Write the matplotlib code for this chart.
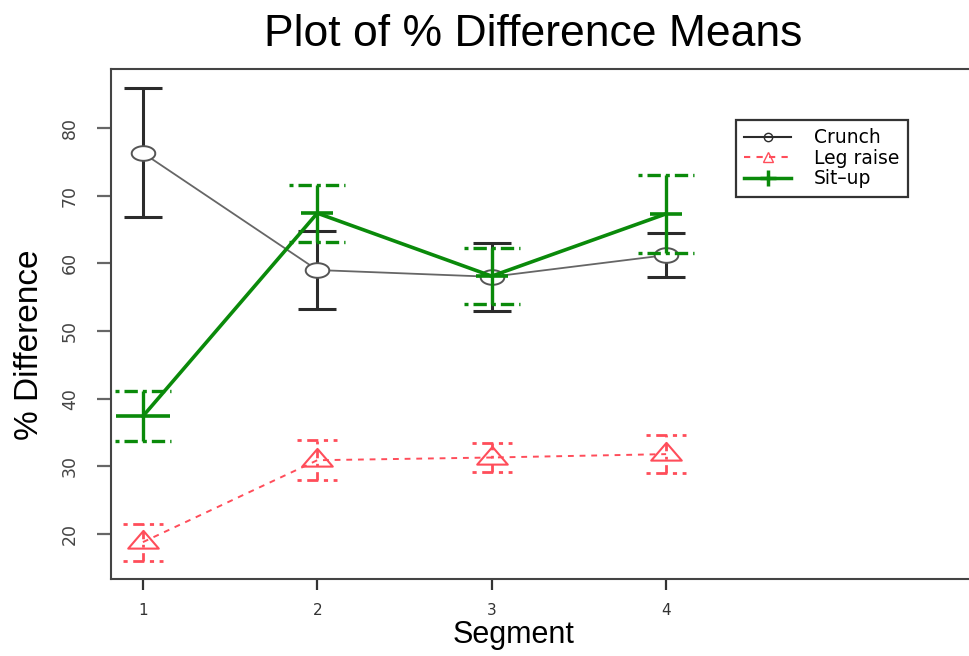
import matplotlib
matplotlib.use("Agg")
import matplotlib.pyplot as plt
from matplotlib import font_manager
from matplotlib.path import Path
from matplotlib.lines import Line2D
import numpy as np

# 數據
segments = [1, 2, 3, 4]
crunch_mean = [76.3, 59.0, 58.0, 61.2]
crunch_lo = [66.8, 53.2, 53.0, 58.0]
crunch_hi = [85.9, 64.8, 63.0, 64.5]
legraise_mean = [18.8, 30.9, 31.3, 31.8]
legraise_lo = [16.0, 28.0, 29.2, 29.0]
legraise_hi = [21.5, 33.9, 33.4, 34.6]
situp_mean = [37.4, 67.4, 58.1, 67.3]
situp_lo = [33.7, 63.1, 54.0, 61.5]
situp_hi = [41.1, 71.6, 62.2, 73.0]
series_names = ["Crunch", "Leg raise", "Sit\u2013up"]
y_ticks = [20, 30, 40, 50, 60, 70, 80]

names = {f.name for f in font_manager.fontManager.ttflist}
narrow = "Liberation Sans Narrow" if "Liberation Sans Narrow" in names else "Liberation Sans"

C_CRUNCH = "#2b2b2b"
C_LEG = "#ff4d5a"
C_SIT = "#0a8a0a"

# 橢圓與三角形標記 (原圖水平拉伸)
t = np.linspace(0, 2 * np.pi, 60)
ellipse = Path(np.column_stack([0.5 * np.cos(t), 0.31 * np.sin(t)]))
triangle = Path([(-0.5, -0.2), (0.5, -0.2), (0.0, 0.38), (-0.5, -0.2)],
                [Path.MOVETO, Path.LINETO, Path.LINETO, Path.CLOSEPOLY])

fig = plt.figure(figsize=(9.69, 6.56), dpi=100)
ax = fig.add_axes([111 / 969, 1 - 579 / 656, (980 - 111) / 969, (579 - 69) / 656])
ax.set_xlim(0.817, 5.8)
ax.set_ylim(13.35, 88.7)

# Crunch
ax.plot(segments, crunch_mean, color="#666666", lw=1.3, zorder=2)
ax.vlines(segments, crunch_lo, crunch_hi, color=C_CRUNCH, lw=2.2, zorder=3)
ax.hlines(crunch_lo, np.array(segments) - 0.11, np.array(segments) + 0.11, color=C_CRUNCH, lw=2.2, zorder=3)
ax.hlines(crunch_hi, np.array(segments) - 0.11, np.array(segments) + 0.11, color=C_CRUNCH, lw=2.2, zorder=3)
ax.plot(segments, crunch_mean, ls="none", marker=ellipse, ms=17, mfc="white",
        mec="#555555", mew=1.4, zorder=4)

# Leg raise
ax.plot(segments, legraise_mean, color=C_LEG, lw=1.4, ls=(0, (3, 3)), zorder=2)
ax.vlines(segments, legraise_lo, legraise_hi, color=C_LEG, lw=2.0, linestyles=(0, (3, 2, 1, 2)), zorder=3)
ax.hlines(legraise_lo, np.array(segments) - 0.115, np.array(segments) + 0.115, color=C_LEG, lw=2.0,
          linestyles=(0, (1.5, 2, 4, 2)), zorder=3)
ax.hlines(legraise_hi, np.array(segments) - 0.115, np.array(segments) + 0.115, color=C_LEG, lw=2.0,
          linestyles=(0, (1.5, 2, 4, 2)), zorder=3)
ax.plot(segments, legraise_mean, ls="none", marker=triangle, ms=22, mfc="none",
        mec=C_LEG, mew=1.5, zorder=4)

# Sit-up
ax.plot(segments, situp_mean, color=C_SIT, lw=2.6, zorder=5)
ax.vlines(segments, situp_lo, situp_hi, color=C_SIT, lw=2.4, zorder=5)
ax.hlines(situp_lo, np.array(segments) - 0.16, np.array(segments) + 0.16, color=C_SIT, lw=2.4,
          linestyles=(0, (1.2, 1.5, 4, 1.5)), zorder=5)
ax.hlines(situp_hi, np.array(segments) - 0.16, np.array(segments) + 0.16, color=C_SIT, lw=2.4,
          linestyles=(0, (1.2, 1.5, 4, 1.5)), zorder=5)
half = np.array([0.155, 0.092, 0.092, 0.092])
ax.hlines(situp_mean, np.array(segments) - half, np.array(segments) + half, color=C_SIT, lw=2.6, zorder=6)

# 座標軸
for sp in ax.spines.values():
    sp.set_color("#444444")
    sp.set_linewidth(1.5)
ax.set_xticks(segments)
ax.set_xticklabels([str(s) for s in segments])
ax.set_yticks(y_ticks)
ax.set_yticklabels([str(v) for v in y_ticks], rotation=90, va="center")
ax.tick_params(axis="x", length=8, width=1.6, color="#333333", labelsize=11, labelcolor="#333333", pad=9)
ax.tick_params(axis="y", length=10, width=1.6, color="#666666", labelsize=12.5, labelcolor="#444444", pad=13)

fig.text(533 / 969, 1 - 34 / 656, "Plot of % Difference Means", fontsize=32, family=narrow,
         ha="center", va="center")
fig.text(514 / 969, 1 - 635 / 656, "Segment", fontsize=22, family=narrow, ha="center", va="center")
fig.text(30 / 969, 1 - 345 / 656, "% Difference", fontsize=24, family=narrow, ha="center", va="center",
         rotation=90)

handles = [
    Line2D([], [], color=C_CRUNCH, lw=1.5, marker="o", ms=6, mfc="none", mec=C_CRUNCH),
    Line2D([], [], color=C_LEG, lw=1.5, ls=(0, (3, 3)), marker="^", ms=7, mfc="none", mec=C_LEG),
    Line2D([], [], color=C_SIT, lw=2.5, marker="+", ms=11, mew=2.5),
]
leg = ax.legend(handles, series_names, loc="upper left",
                bbox_to_anchor=(736 / 969, 1 - 120 / 656), bbox_transform=fig.transFigure,
                frameon=True, fancybox=False, framealpha=1, edgecolor="#333333",
                prop={"family": "DejaVu Sans", "size": 13.5}, handlelength=2.5,
                handletextpad=1.2, labelspacing=0.08, borderpad=0.45, borderaxespad=0)
leg.get_frame().set_linewidth(1.6)

fig.savefig("out.png", dpi=100)
